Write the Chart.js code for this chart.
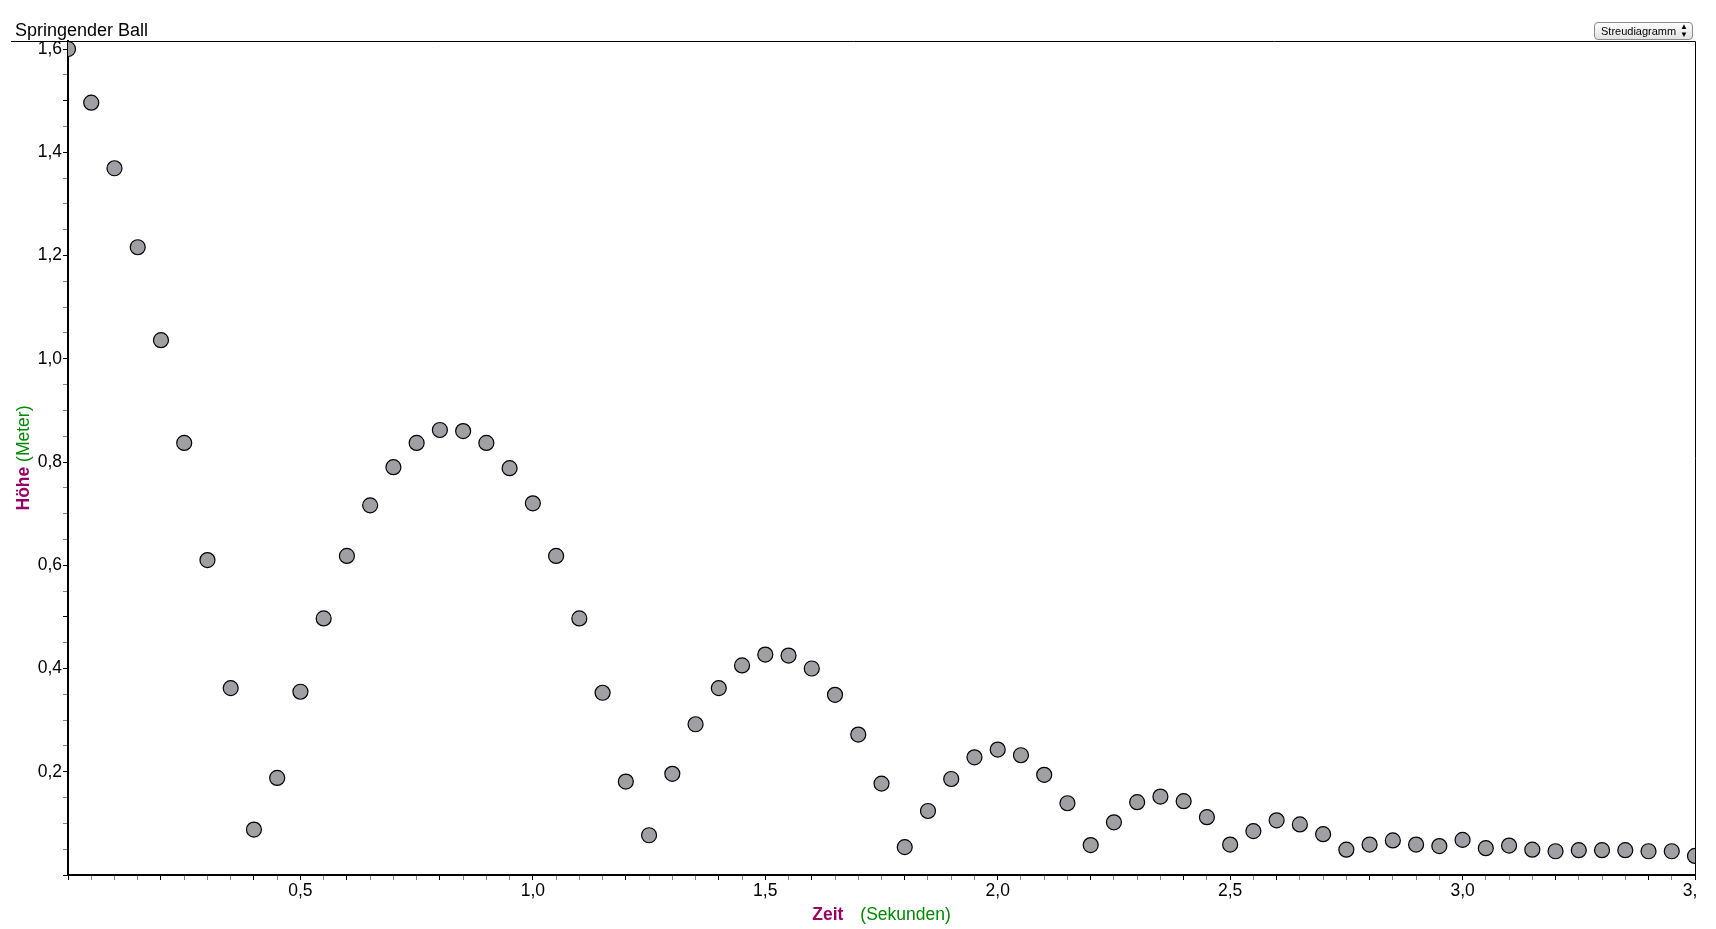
<!DOCTYPE html>
<html>
<head>
<meta charset="utf-8">
<script src="https://cdn.jsdelivr.net/npm/chart.js@4/dist/chart.umd.min.js"></script>
<style>
  html, body { margin: 0; padding: 0; background: #fff; }
  #wrap { position: relative; width: 1716px; height: 929px; }
  #mode {
    position: absolute; left: 1594px; top: 22px; width: 91px; height: 16px;
    border: 1px solid #8a8a8a; border-radius: 4px;
    background: linear-gradient(#fdfdfd, #e2e2e2);
    font: 11px "Liberation Sans", Arial, sans-serif; color: #000;
    line-height: 16px; padding-left: 6px; box-sizing: content-box;
  }
  #mode span { position: absolute; right: 4px; top: 0; font-size: 8px; line-height: 8px; }
</style>
</head>
<body>
<div id="wrap">
  <canvas id="chart" width="1716" height="929"></canvas>
  <div id="mode">Streudiagramm<span>▲<br>▼</span></div>
</div>
<script>
// Springender Ball - Höhe über Zeit
const times = [
  0.00, 0.05, 0.10, 0.15, 0.20, 0.25, 0.30, 0.35, 0.40, 0.45,
  0.50, 0.55, 0.60, 0.65, 0.70, 0.75, 0.80, 0.85, 0.90, 0.95,
  1.00, 1.05, 1.10, 1.15, 1.20, 1.25, 1.30, 1.35, 1.40, 1.45,
  1.50, 1.55, 1.60, 1.65, 1.70, 1.75, 1.80, 1.85, 1.90, 1.95,
  2.00, 2.05, 2.10, 2.15, 2.20, 2.25, 2.30, 2.35, 2.40, 2.45,
  2.50, 2.55, 2.60, 2.65, 2.70, 2.75, 2.80, 2.85, 2.90, 2.95,
  3.00, 3.05, 3.10, 3.15, 3.20, 3.25, 3.30, 3.35, 3.40, 3.45,
  3.50
];
const heights = [
  1.600, 1.496, 1.369, 1.216, 1.036, 0.837, 0.610, 0.362, 0.088, 0.188,
  0.355, 0.497, 0.618, 0.716, 0.790, 0.837, 0.862, 0.860, 0.837, 0.788,
  0.720, 0.618, 0.497, 0.353, 0.181, 0.077, 0.196, 0.292, 0.362, 0.406,
  0.427, 0.425, 0.400, 0.349, 0.272, 0.177, 0.054, 0.124, 0.186, 0.228,
  0.243, 0.232, 0.194, 0.139, 0.058, 0.102, 0.141, 0.152, 0.143, 0.112,
  0.059, 0.085, 0.106, 0.098, 0.079, 0.049, 0.059, 0.067, 0.059, 0.056,
  0.068, 0.052, 0.057, 0.049, 0.046, 0.048, 0.048, 0.048, 0.046, 0.046,
  0.037
];
const xTickLabels = ["0,5", "1,0", "1,5", "2,0", "2,5", "3,0", "3,5"];
const yTickLabels = ["0,2", "0,4", "0,6", "0,8", "1,0", "1,2", "1,4", "1,6"];

const FONT = '"Liberation Sans", Arial, sans-serif';
const near = (v, step) => Math.abs(Math.round(v / step) * step - v) < 1e-6;
const labelFor = (v, step, list) => {
  if (!near(v, step) || v < 1e-6) return "";
  return list[Math.round(v / step) - 1] || "";
};
const tickCol = ctx => (ctx.tick && near(ctx.tick.value, 0.1) && (near(ctx.tick.value, 0.5) || near(ctx.tick.value, 0.2))) ? "#000" : "#808080";

const decor = {
  id: "decor",
  afterDraw(chart) {
    const { ctx, chartArea: a } = chart;
    ctx.save();
    // hide overflow of the last x label like the original
    ctx.fillStyle = "#fff";
    ctx.fillRect(a.right + 2, a.bottom + 7, 30, 30);
    // frame top & right
    ctx.strokeStyle = "#000";
    ctx.lineWidth = 1;
    ctx.beginPath();
    ctx.moveTo(11, a.top + 0.5);
    ctx.lineTo(a.right + 0.5, a.top + 0.5);
    ctx.lineTo(a.right + 0.5, a.bottom);
    ctx.stroke();
    // title
    ctx.fillStyle = "#000";
    ctx.font = "18px " + FONT;
    ctx.textAlign = "left";
    ctx.textBaseline = "alphabetic";
    ctx.fillText("Springender Ball", 15, 36);
    // x axis title
    const cx = (a.left + a.right) / 2;
    ctx.textBaseline = "middle";
    ctx.font = "bold 17.5px " + FONT;
    const w1 = ctx.measureText("Zeit").width;
    ctx.font = "17.5px " + FONT;
    const w2 = ctx.measureText("(Sekunden)").width;
    const gap = 17;
    let x0 = cx - (w1 + gap + w2) / 2;
    ctx.font = "bold 17.5px " + FONT;
    ctx.fillStyle = "#990066";
    ctx.fillText("Zeit", x0, 915);
    ctx.font = "17.5px " + FONT;
    ctx.fillStyle = "#008800";
    ctx.fillText("(Sekunden)", x0 + w1 + gap, 915);
    // y axis title
    ctx.translate(24, (a.top + a.bottom) / 2);
    ctx.rotate(-Math.PI / 2);
    ctx.font = "bold 17.5px " + FONT;
    const h1 = ctx.measureText("Höhe ").width;
    ctx.font = "17.5px " + FONT;
    const h2 = ctx.measureText("(Meter)").width;
    x0 = -(h1 + h2) / 2;
    ctx.font = "bold 17.5px " + FONT;
    ctx.fillStyle = "#990066";
    ctx.fillText("Höhe ", x0, 0);
    ctx.font = "17.5px " + FONT;
    ctx.fillStyle = "#008800";
    ctx.fillText("(Meter)", x0 + h1, 0);
    ctx.restore();
  }
};

new Chart(document.getElementById("chart"), {
  type: "scatter",
  data: {
    datasets: [{
      data: times.map((t, i) => ({ x: t, y: heights[i] })),
      backgroundColor: "#a0a0a4",
      borderColor: "#000",
      borderWidth: 1.2,
      pointRadius: 7.5,
      pointHoverRadius: 7.5,
      clip: 0
    }]
  },
  options: {
    responsive: false,
    devicePixelRatio: 1,
    animation: false,
    layout: { padding: { left: 0, top: 41, right: 21, bottom: 0 } },
    plugins: { legend: { display: false }, tooltip: { enabled: false } },
    scales: {
      x: {
        type: "linear", min: 0, max: 3.5, z: 1,
        afterFit: s => { s.height = 54; },
        ticks: {
          stepSize: 0.05, autoSkip: false, maxRotation: 0, includeBounds: false,
          padding: 1, color: "#000", font: { family: FONT, size: 17.5 },
          callback: v => labelFor(v, 0.5, xTickLabels)
        },
        grid: { drawOnChartArea: false, tickLength: 5, tickColor: tickCol, tickWidth: 1 },
        border: { color: "#000", width: 2 }
      },
      y: {
        type: "linear", min: 0, max: 1.6155, z: 1,
        afterFit: s => { s.width = 68; },
        ticks: {
          stepSize: 0.05, autoSkip: false, includeBounds: false,
          padding: 1, color: "#000", font: { family: FONT, size: 17.5 },
          callback: v => labelFor(v, 0.2, yTickLabels)
        },
        grid: { drawOnChartArea: false, tickLength: 5, tickColor: tickCol, tickWidth: 1 },
        border: { color: "#000", width: 2 }
      }
    }
  },
  plugins: [decor]
});
</script>
</body>
</html>
